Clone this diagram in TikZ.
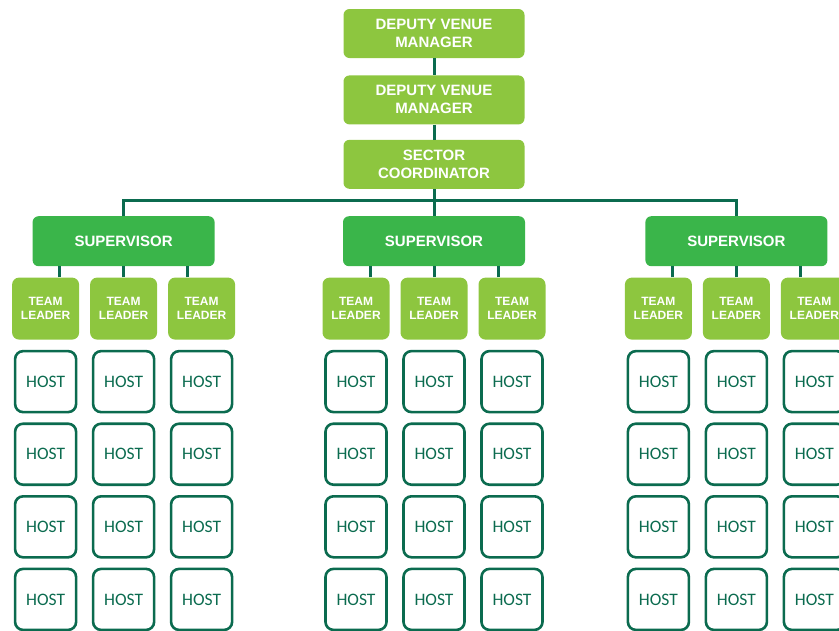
\documentclass[tikz,border=0pt]{standalone}
\usepackage{fontspec}
\setmainfont{Liberation Sans}
\newfontfamily\hostfont{Carlito}
\usetikzlibrary{positioning}
\definecolor{leafgreen}{HTML}{8DC63F}
\definecolor{supgreen}{HTML}{3AB54A}
\definecolor{pinegreen}{HTML}{0B6B4F}
\tikzstyle{manager} = [rectangle, rounded corners=6pt, fill=leafgreen, text=white, minimum width=181pt, minimum height=49pt, inner sep=0pt, align=center, font=\bfseries\fontsize{15}{18}\selectfont]
\tikzstyle{supervisor} = [rectangle, rounded corners=6pt, fill=supgreen, text=white, minimum width=182pt, minimum height=50pt, inner sep=0pt, font=\bfseries\fontsize{15}{18}\selectfont]
\tikzstyle{leader} = [rectangle, rounded corners=7pt, fill=leafgreen, text=white, minimum width=67pt, minimum height=62pt, inner sep=0pt, align=center, font=\bfseries\fontsize{12}{14.5}\selectfont]
\tikzstyle{host} = [rectangle, rounded corners=8pt, draw=pinegreen, line width=2.6pt, text=pinegreen, minimum size=61pt, inner sep=0pt, font=\hostfont\fontsize{17.5}{20}\selectfont]
\tikzstyle{link} = [pinegreen, line width=3pt]

\begin{document}
\begin{tikzpicture}
		\useasboundingbox (0,0) rectangle (839pt,-630pt);
		\node (Deputy01) [manager] at (434pt,-33.5pt) {DEPUTY VENUE\\MANAGER};
		\node (Deputy02) [manager, below = 17pt of Deputy01] {DEPUTY VENUE\\MANAGER};
		\node (Sector) [manager, below = 15pt of Deputy02] {SECTOR\\COORDINATOR};
		
		\node (Supervisor02) [supervisor, below = 27pt of Sector] {SUPERVISOR};
		\node (Supervisor01) [supervisor, left = 128pt of Supervisor02] {SUPERVISOR};
		\node (Supervisor03) [supervisor, right = 120pt of Supervisor02] {SUPERVISOR};
		
		\node (Leader01) [leader, below = 11pt of Supervisor01, xshift=-78pt] {TEAM\\LEADER};
		\node (Leader02) [leader, below = 11pt of Supervisor01] {TEAM\\LEADER};
		\node (Leader03) [leader, below = 11pt of Supervisor01, xshift=78pt] {TEAM\\LEADER};
		\node (Leader04) [leader, below = 11pt of Supervisor02, xshift=-78pt] {TEAM\\LEADER};
		\node (Leader05) [leader, below = 11pt of Supervisor02] {TEAM\\LEADER};
		\node (Leader06) [leader, below = 11pt of Supervisor02, xshift=78pt] {TEAM\\LEADER};
		\node (Leader07) [leader, below = 11pt of Supervisor03, xshift=-78pt] {TEAM\\LEADER};
		\node (Leader08) [leader, below = 11pt of Supervisor03] {TEAM\\LEADER};
		\node (Leader09) [leader, below = 11pt of Supervisor03, xshift=78pt] {TEAM\\LEADER};
		
		\node (Host01) [host, below = 10pt of Leader01] {HOST};
		\node (Host02) [host, below = 9pt of Host01] {HOST};
		\node (Host03) [host, below = 9pt of Host02] {HOST};
		\node (Host04) [host, below = 9pt of Host03] {HOST};
		\node (Host05) [host, below = 10pt of Leader02] {HOST};
		\node (Host06) [host, below = 9pt of Host05] {HOST};
		\node (Host07) [host, below = 9pt of Host06] {HOST};
		\node (Host08) [host, below = 9pt of Host07] {HOST};
		\node (Host09) [host, below = 10pt of Leader03] {HOST};
		\node (Host10) [host, below = 9pt of Host09] {HOST};
		\node (Host11) [host, below = 9pt of Host10] {HOST};
		\node (Host12) [host, below = 9pt of Host11] {HOST};
		\node (Host13) [host, below = 10pt of Leader04] {HOST};
		\node (Host14) [host, below = 9pt of Host13] {HOST};
		\node (Host15) [host, below = 9pt of Host14] {HOST};
		\node (Host16) [host, below = 9pt of Host15] {HOST};
		\node (Host17) [host, below = 10pt of Leader05] {HOST};
		\node (Host18) [host, below = 9pt of Host17] {HOST};
		\node (Host19) [host, below = 9pt of Host18] {HOST};
		\node (Host20) [host, below = 9pt of Host19] {HOST};
		\node (Host21) [host, below = 10pt of Leader06] {HOST};
		\node (Host22) [host, below = 9pt of Host21] {HOST};
		\node (Host23) [host, below = 9pt of Host22] {HOST};
		\node (Host24) [host, below = 9pt of Host23] {HOST};
		\node (Host25) [host, below = 10pt of Leader07] {HOST};
		\node (Host26) [host, below = 9pt of Host25] {HOST};
		\node (Host27) [host, below = 9pt of Host26] {HOST};
		\node (Host28) [host, below = 9pt of Host27] {HOST};
		\node (Host29) [host, below = 10pt of Leader08] {HOST};
		\node (Host30) [host, below = 9pt of Host29] {HOST};
		\node (Host31) [host, below = 9pt of Host30] {HOST};
		\node (Host32) [host, below = 9pt of Host31] {HOST};
		\node (Host33) [host, below = 10pt of Leader09] {HOST};
		\node (Host34) [host, below = 9pt of Host33] {HOST};
		\node (Host35) [host, below = 9pt of Host34] {HOST};
		\node (Host36) [host, below = 9pt of Host35] {HOST};
		
		\draw [link] (Deputy01) -- (Deputy02);
		\draw [link] (Deputy02) -- (Sector);
		\draw [link] (Sector) -- (Supervisor02);
		\draw [link] (Supervisor01.north) -- ++(0,16pt) -| (Supervisor03.north);
		
		\draw [link] ([xshift=14pt]Leader01.north) -- ([xshift=-64pt]Supervisor01.south);
		\draw [link] (Leader02.north) -- (Supervisor01.south);
		\draw [link] ([xshift=-14pt]Leader03.north) -- ([xshift=64pt]Supervisor01.south);
		\draw [link] ([xshift=14pt]Leader04.north) -- ([xshift=-64pt]Supervisor02.south);
		\draw [link] (Leader05.north) -- (Supervisor02.south);
		\draw [link] ([xshift=-14pt]Leader06.north) -- ([xshift=64pt]Supervisor02.south);
		\draw [link] ([xshift=14pt]Leader07.north) -- ([xshift=-64pt]Supervisor03.south);
		\draw [link] (Leader08.north) -- (Supervisor03.south);
		\draw [link] ([xshift=-14pt]Leader09.north) -- ([xshift=64pt]Supervisor03.south);
		\end{tikzpicture}
\end{document}
